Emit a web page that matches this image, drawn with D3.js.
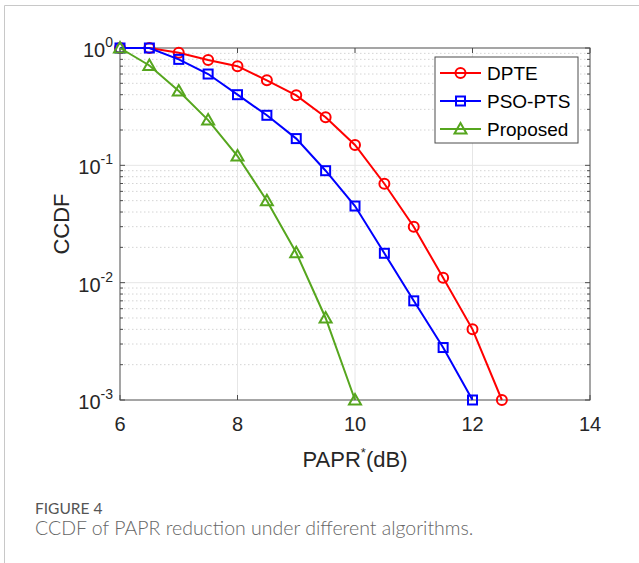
<!DOCTYPE html>
<html>
<head>
<meta charset="utf-8">
<script src="https://cdn.jsdelivr.net/npm/d3@7"></script>
<style>
  body { margin: 0; background: #fff; }
  svg { display: block; }
</style>
</head>
<body>
<div id="graph"></div>
<script>
// PAPR threshold (dB)
const papr = [6, 6.5, 7, 7.5, 8, 8.5, 9, 9.5, 10, 10.5, 11, 11.5, 12, 12.5]
const dpte = [1, 1, 0.91, 0.79, 0.70, 0.53, 0.395, 0.257, 0.149, 0.0697, 0.030, 0.011, 0.004, 0.001]
const psoPts = [1, 1, 0.80, 0.60, 0.40, 0.267, 0.169, 0.090, 0.045, 0.0178, 0.0070, 0.0028, 0.001]
const proposed = [1, 0.71, 0.43, 0.243, 0.12, 0.050, 0.018, 0.005, 0.001]
const xTicks = [6, 8, 10, 12, 14]
const yExps = [0, -1, -2, -3]

const series = [
  { name: "DPTE", values: dpte, color: "#ff0000", marker: "circle" },
  { name: "PSO-PTS", values: psoPts, color: "#0000ff", marker: "square" },
  { name: "Proposed", values: proposed, color: "#56a61e", marker: "triangle" }
]

const margin = { top: 48, left: 120 }
const width = 470
const height = 352

const svg = d3.select("#graph").append("svg")
  .attr("width", 639)
  .attr("height", 563)

// figure frame
svg.append("path")
  .attr("d", "M4.5,563 V5.5 H639")
  .attr("fill", "none")
  .attr("stroke", "#c8c8c8")
  .attr("stroke-width", 1)

const g = svg.append("g")
  .attr("transform", "translate(" + margin.left + "," + margin.top + ")")

const x = d3.scaleLinear().domain([6, 14]).range([0, width])
const y = d3.scaleLog().domain([1e-3, 1]).range([height, 0])

// minor grid (log)
const minor = []
yExps.slice(1).forEach(e => {
  for (let k = 2; k <= 9; k++) minor.push(k * Math.pow(10, e))
})
g.selectAll(".minor").data(minor).enter().append("line")
  .attr("x1", 0).attr("x2", width)
  .attr("y1", d => y(d)).attr("y2", d => y(d))
  .attr("stroke", "#d4d4d4")
  .attr("stroke-dasharray", "1.5,2.5")

// major grid
g.selectAll(".gx").data(xTicks.slice(1, -1)).enter().append("line")
  .attr("x1", d => x(d)).attr("x2", d => x(d))
  .attr("y1", 0).attr("y2", height)
  .attr("stroke", "#e6e6e6")
g.selectAll(".gy").data(yExps.slice(1, -1)).enter().append("line")
  .attr("x1", 0).attr("x2", width)
  .attr("y1", d => y(Math.pow(10, d))).attr("y2", d => y(Math.pow(10, d)))
  .attr("stroke", "#e6e6e6")

// ticks on all sides
const axisColor = "#4d4d4d"
minor.forEach(v => {
  g.append("line").attr("x1", 0).attr("x2", 3).attr("y1", y(v)).attr("y2", y(v)).attr("stroke", axisColor)
  g.append("line").attr("x1", width).attr("x2", width - 3).attr("y1", y(v)).attr("y2", y(v)).attr("stroke", axisColor)
})
yExps.forEach(e => {
  const yy = y(Math.pow(10, e))
  g.append("line").attr("x1", 0).attr("x2", 5).attr("y1", yy).attr("y2", yy).attr("stroke", axisColor)
  g.append("line").attr("x1", width).attr("x2", width - 5).attr("y1", yy).attr("y2", yy).attr("stroke", axisColor)
})
xTicks.forEach(t => {
  g.append("line").attr("x1", x(t)).attr("x2", x(t)).attr("y1", height).attr("y2", height - 5).attr("stroke", axisColor)
  g.append("line").attr("x1", x(t)).attr("x2", x(t)).attr("y1", 0).attr("y2", 5).attr("stroke", axisColor)
})

g.append("rect")
  .attr("width", width).attr("height", height)
  .attr("fill", "none")
  .attr("stroke", axisColor)
  .attr("stroke-width", 1)

const font = "Liberation Sans, Arial, sans-serif"

// x tick labels
g.selectAll(".xl").data(xTicks).enter().append("text")
  .attr("x", d => x(d))
  .attr("y", height + 31)
  .attr("text-anchor", "middle")
  .style("font-family", font)
  .style("font-size", "20px")
  .attr("fill", "#262626")
  .text(d => d)

// y tick labels 10^e
yExps.forEach(e => {
  const t = g.append("text")
    .attr("x", -7)
    .attr("y", y(Math.pow(10, e)) + 9)
    .attr("text-anchor", "end")
    .style("font-family", font)
    .style("font-size", "20px")
    .attr("fill", "#262626")
  t.append("tspan").text("10")
  t.append("tspan").attr("dy", -10).style("font-size", "14px").text(e)
})

// axis titles
g.append("text")
  .attr("transform", "translate(-51," + (height / 2) + ") rotate(-90)")
  .attr("text-anchor", "middle")
  .style("font-family", font)
  .style("font-size", "22px")
  .attr("fill", "#262626")
  .text("CCDF")

const xt = g.append("text")
  .attr("x", width / 2)
  .attr("y", height + 67)
  .attr("text-anchor", "middle")
  .style("font-family", font)
  .style("font-size", "22px")
  .attr("fill", "#262626")
xt.append("tspan").text("PAPR")
xt.append("tspan").attr("dy", -10).style("font-size", "13px").text("*")
xt.append("tspan").attr("dy", 10).text("(dB)")

// markers
function drawMarker(sel, type, color, cx, cy) {
  if (type === "circle") {
    sel.append("circle").attr("cx", cx).attr("cy", cy).attr("r", 5)
      .attr("fill", "none").attr("stroke", color).attr("stroke-width", 2)
  } else if (type === "square") {
    sel.append("rect").attr("x", cx - 4.5).attr("y", cy - 4.5).attr("width", 9).attr("height", 9)
      .attr("fill", "none").attr("stroke", color).attr("stroke-width", 2)
  } else {
    sel.append("path")
      .attr("d", `M${cx},${cy - 6} L${cx + 6},${cy + 4.5} L${cx - 6},${cy + 4.5} Z`)
      .attr("fill", "none").attr("stroke", color).attr("stroke-width", 2)
  }
}

const line = d3.line().x(d => x(d[0])).y(d => y(d[1]))

series.forEach(s => {
  const pts = s.values.map((v, i) => [papr[i], v])
  g.append("path")
    .datum(pts)
    .attr("d", line)
    .attr("fill", "none")
    .attr("stroke", s.color)
    .attr("stroke-width", 2)
  pts.forEach(p => drawMarker(g, s.marker, s.color, x(p[0]), y(p[1])))
})

// legend
const legend = g.append("g").attr("transform", "translate(315,9)")
legend.append("rect")
  .attr("width", 143).attr("height", 86)
  .attr("fill", "#fff")
  .attr("stroke", axisColor)
series.forEach((s, i) => {
  const ly = 16 + i * 28
  legend.append("line")
    .attr("x1", 5).attr("x2", 46).attr("y1", ly).attr("y2", ly)
    .attr("stroke", s.color).attr("stroke-width", 2)
  drawMarker(legend, s.marker, s.color, 25.5, ly)
  legend.append("text")
    .attr("x", 52).attr("y", ly + 7)
    .style("font-family", font)
    .style("font-size", "19px")
    .attr("fill", "#000")
    .text(s.name)
})

// caption
svg.append("text")
  .attr("x", 35).attr("y", 514)
  .style("font-family", "Lato, Open Sans, sans-serif")
  .style("font-size", "15.5px")
  .attr("fill", "#555")
  .text("FIGURE 4")
svg.append("text")
  .attr("x", 35).attr("y", 535)
  .style("font-family", "Lato, Open Sans, sans-serif")
  .style("font-size", "19.5px")
  .style("font-weight", 300)
  .attr("fill", "#666")
  .text("CCDF of PAPR reduction under different algorithms.")
</script>
</body>
</html>
